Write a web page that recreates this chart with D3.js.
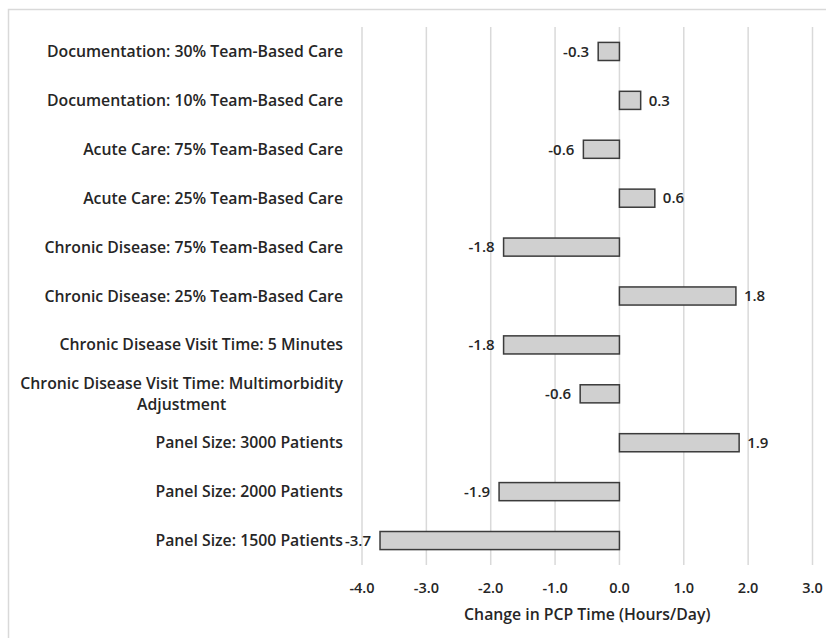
<!DOCTYPE html>
<html>
<head>
<meta charset="utf-8">
<script src="https://cdn.jsdelivr.net/npm/d3@7"></script>
<style>
  body { margin: 0; background: #fff; }
  text { font-family: "Open Sans", Lato, sans-serif; fill: #262626; }
</style>
</head>
<body>
<div id="chart"></div>
<script>
    // categories top to bottom, "\n" marks a line break in the label
    let categories = [
        "Documentation: 30% Team-Based Care",
        "Documentation: 10% Team-Based Care",
        "Acute Care: 75% Team-Based Care",
        "Acute Care: 25% Team-Based Care",
        "Chronic Disease: 75% Team-Based Care",
        "Chronic Disease: 25% Team-Based Care",
        "Chronic Disease Visit Time: 5 Minutes",
        "Chronic Disease Visit Time: Multimorbidity\nAdjustment",
        "Panel Size: 3000 Patients",
        "Panel Size: 2000 Patients",
        "Panel Size: 1500 Patients"
    ];

    let values = [-0.33, 0.33, -0.56, 0.55, -1.8, 1.81, -1.8, -0.61, 1.86, -1.87, -3.72];

    let xTicks = [-4, -3, -2, -1, 0, 1, 2, 3];

    let W = 826, H = 638;

    let svg = d3.select("#chart")
        .append("svg")
        .attr("width", W)
        .attr("height", H);

    // outer frame of the chart area
    svg.append("rect")
        .attr("x", 8.5)
        .attr("y", 9.5)
        .attr("width", W + 10)
        .attr("height", H + 10)
        .attr("fill", "none")
        .attr("stroke", "#d9d9d9")
        .attr("stroke-width", 1.5);

    let x = d3.scaleLinear()
        .domain([-4, 3])
        .range([362, 812.5]);

    let y = d3.scaleBand()
        .domain(categories)
        .range([27, 565])
        .paddingInner(0.63)
        .paddingOuter(0.315);

    // vertical gridlines
    svg.append("g")
        .selectAll("line")
        .data(xTicks)
        .enter()
        .append("line")
        .attr("x1", d => x(d))
        .attr("x2", d => x(d))
        .attr("y1", 27)
        .attr("y2", 565)
        .attr("stroke", "#d9d9d9")
        .attr("stroke-width", 1.5);

    // bars
    svg.append("g")
        .selectAll("rect")
        .data(values)
        .enter()
        .append("rect")
        .attr("x", d => x(Math.min(0, d)))
        .attr("y", (d, i) => y(categories[i]))
        .attr("width", d => Math.abs(x(d) - x(0)))
        .attr("height", y.bandwidth())
        .attr("fill", "#d0d0d0")
        .attr("stroke", "#3b3b3b")
        .attr("stroke-width", 1.5);

    // value labels
    svg.append("g")
        .selectAll("text")
        .data(values)
        .enter()
        .append("text")
        .text(d => d.toFixed(1))
        .attr("x", d => d < 0 ? x(d) - 9 : x(d) + 8)
        .attr("y", (d, i) => y(categories[i]) + y.bandwidth() / 2)
        .attr("dy", "0.35em")
        .attr("text-anchor", d => d < 0 ? "end" : "start")
        .attr("font-size", "15px")
        .attr("font-weight", 600);

    // category labels, multi-line ones are centred on each other
    let labelRight = 343;
    let catG = svg.append("g");
    categories.forEach(function (c, i) {
        let lines = c.split("\n");
        let cy = y(c) + y.bandwidth() / 2;
        let t = catG.append("text")
            .attr("font-size", "15.8px")
            .attr("font-weight", 600);
        lines.forEach(function (l, j) {
            t.append("tspan").text(l);
        });
        let spans = t.selectAll("tspan").nodes();
        let widths = spans.map(s => s.getComputedTextLength());
        let maxW = d3.max(widths);
        let lineH = 21;
        spans.forEach(function (s, j) {
            let sel = d3.select(s);
            if (lines.length > 1) {
                sel.attr("x", labelRight - maxW / 2).attr("text-anchor", "middle");
            } else {
                sel.attr("x", labelRight).attr("text-anchor", "end");
            }
            sel.attr("y", cy + (j - (lines.length - 1) / 2) * lineH).attr("dy", "0.35em");
        });
    });

    // x axis tick labels
    svg.append("g")
        .selectAll("text")
        .data(xTicks)
        .enter()
        .append("text")
        .text(d => d.toFixed(1))
        .attr("x", d => x(d))
        .attr("y", 588)
        .attr("dy", "0.35em")
        .attr("text-anchor", "middle")
        .attr("font-size", "14.5px")
        .attr("font-weight", 600);

    // axis title
    svg.append("text")
        .text("Change in PCP Time (Hours/Day)")
        .attr("x", (x(-4) + x(3)) / 2)
        .attr("y", 614)
        .attr("dy", "0.35em")
        .attr("text-anchor", "middle")
        .attr("font-size", "15.8px")
        .attr("font-weight", 600);
</script>
</body>
</html>
